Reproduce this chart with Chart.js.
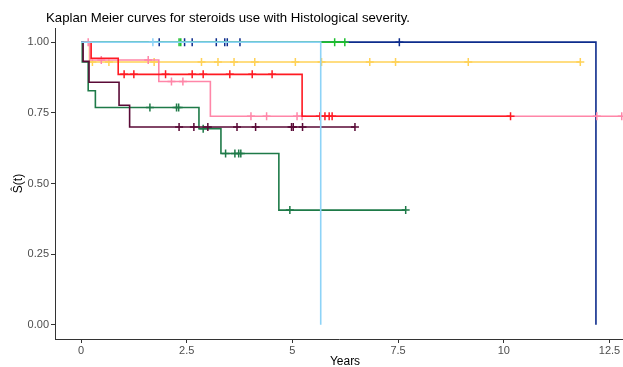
<!DOCTYPE html>
<html>
<head>
<meta charset="utf-8">
<script src="https://cdn.jsdelivr.net/npm/chart.js@4.4.1/dist/chart.umd.min.js"></script>
<style>
  html, body { margin: 0; padding: 0; background: #fff; }
  #km { display: block; }
</style>
</head>
<body>
<canvas id="km" width="623" height="367"></canvas>
<script>
// Kaplan Meier step curves: event times and survival just after each time
var navyTimes = [0, 12.18];
var navySurv = [1, 0];
var navyCens = [1.85, 2.45, 2.63, 3.2, 3.4, 3.46, 3.76, 7.53];

var greenTimes = [0, 6.24];
var greenSurv = [1, 1];
var greenCens = [2.32, 2.36, 6.0, 6.24];

var skyTimes = [0, 5.67];
var skySurv = [1, 0];
var skyCens = [1.70];

var yellowTimes = [0, 0.2, 11.81];
var yellowSurv = [1, 0.93, 0.93];
var yellowCens = [0.27, 0.66, 1.73, 2.85, 3.24, 3.62, 4.11, 5.07, 5.69, 6.83, 7.44, 9.16, 11.81];

var pinkTimes = [0, 0.21, 1.84, 3.06, 12.79];
var pinkSurv = [1, 0.937, 0.861, 0.738, 0.738];
var pinkCens = [0.17, 0.48, 1.59, 2.14, 2.41, 4.02, 4.39, 5.11, 5.23, 12.2, 12.79];

var redTimes = [0, 0.24, 0.88, 5.23, 10.16];
var redSurv = [1, 0.943, 0.886, 0.738, 0.738];
var redCens = [1.02, 1.25, 2.0, 2.63, 2.89, 3.52, 4.05, 4.52, 5.65, 5.77, 5.87, 5.94, 10.16];

var maroonTimes = [0, 0.05, 0.19, 0.9, 1.15, 6.48];
var maroonSurv = [1, 0.932, 0.858, 0.777, 0.700, 0.700];
var maroonCens = [2.32, 2.67, 3.0, 3.69, 4.13, 4.98, 5.02, 5.24, 6.48];

var dkgreenTimes = [0, 0.03, 0.17, 0.34, 2.79, 3.31, 4.68, 7.68];
var dkgreenSurv = [1, 0.93, 0.828, 0.769, 0.694, 0.606, 0.406, 0.406];
var dkgreenCens = [1.63, 2.26, 2.31, 2.89, 3.42, 3.64, 3.73, 3.78, 4.94, 7.68];

var xTickVals = [0, 2.5, 5, 7.5, 10, 12.5];
var xTickLabels = ['0', '2.5', '5', '7.5', '10', '12.5'];
var yTickVals = [0, 0.25, 0.5, 0.75, 1];
var yTickLabels = ['0.00', '0.25', '0.50', '0.75', '1.00'];

var chartTitle = 'Kaplan Meier curves for steroids use with Histological severity.';

// drawing order: first in list is at the bottom
var curves = [
  { times: navyTimes, surv: navySurv, cens: navyCens, color: '#0D2C8C' },
  { times: greenTimes, surv: greenSurv, cens: greenCens, color: '#1DBF2E' },
  { times: yellowTimes, surv: yellowSurv, cens: yellowCens, color: '#FFD257' },
  { times: pinkTimes, surv: pinkSurv, cens: pinkCens, color: '#FF86A8' },
  { times: redTimes, surv: redSurv, cens: redCens, color: '#FF1A22' },
  { times: dkgreenTimes, surv: dkgreenSurv, cens: dkgreenCens, color: '#1E7A48' },
  { times: maroonTimes, surv: maroonSurv, cens: maroonCens, color: '#5A0A36' },
  { times: skyTimes, surv: skySurv, cens: skyCens, color: '#8DD3F7' }
];

// survival value at time t (value of the step holding at t)
function survAt(times, surv, t) {
  var s = surv[0];
  for (var i = 0; i < times.length; i++) {
    if (times[i] <= t) s = surv[i];
  }
  return s;
}

var datasets = [];
var n = curves.length;
curves.forEach(function (c, k) {
  datasets.push({
    data: c.times.map(function (t, i) { return { x: t, y: c.surv[i] }; }),
    showLine: true,
    stepped: 'before',
    borderColor: c.color,
    borderWidth: 1.6,
    pointRadius: 0,
    fill: false,
    order: 2 * (n - k)
  });
  datasets.push({
    data: c.cens.map(function (t) { return { x: t, y: survAt(c.times, c.surv, t) }; }),
    showLine: false,
    pointStyle: 'cross',
    pointRadius: 4,
    pointBorderWidth: 1.5,
    pointBorderColor: c.color,
    pointBackgroundColor: c.color,
    order: 2 * (n - k) - 1
  });
});

var textPlugin = {
  id: 'texts',
  afterDraw: function (chart) {
    var ctx = chart.ctx;
    ctx.save();
    ctx.fillStyle = '#000';
    ctx.textBaseline = 'alphabetic';
    ctx.font = '13.2px "Liberation Sans", Arial, sans-serif';
    ctx.textAlign = 'left';
    ctx.fillText(chartTitle, 46, 22);
    ctx.font = '12px "Liberation Sans", Arial, sans-serif';
    ctx.textAlign = 'center';
    ctx.fillText('Years', 345, 365);
    ctx.restore();
  }
};

var tickFont = { family: '"Liberation Sans", Arial, sans-serif', size: 11 };

new Chart(document.getElementById('km'), {
  type: 'scatter',
  data: { datasets: datasets },
  options: {
    responsive: false,
    animation: false,
    devicePixelRatio: 1,
    layout: { autoPadding: false, padding: { top: 28, right: 0, left: 0, bottom: 0 } },
    plugins: {
      legend: { display: false },
      tooltip: { enabled: false },
      title: { display: false }
    },
    scales: {
      x: {
        type: 'linear',
        min: -0.615,
        max: 12.82,
        afterBuildTicks: function (s) {
          s.ticks = xTickVals.map(function (v) { return { value: v }; });
        },
        afterFit: function (s) {
          s.height = 28;
          s.paddingLeft = 0;
          s.paddingRight = 0;
        },
        ticks: {
          font: tickFont,
          color: '#4D4D4D',
          padding: 1,
          maxRotation: 0,
          autoSkip: false,
          callback: function (v) { return xTickLabels[xTickVals.indexOf(v)]; }
        },
        grid: { drawOnChartArea: false, drawTicks: true, tickLength: 4, color: '#333' },
        border: { display: true, color: '#333', width: 1 }
      },
      y: {
        type: 'linear',
        min: -0.05,
        max: 1.05,
        afterBuildTicks: function (s) {
          s.ticks = yTickVals.map(function (v) { return { value: v }; });
        },
        afterFit: function (s) {
          s.width = 55;
          s.paddingTop = 0;
          s.paddingBottom = 0;
        },
        ticks: {
          font: tickFont,
          color: '#4D4D4D',
          padding: 2,
          autoSkip: false,
          callback: function (v) { return yTickLabels[yTickVals.indexOf(v)]; }
        },
        grid: { drawOnChartArea: false, drawTicks: true, tickLength: 4, color: '#333' },
        border: { display: true, color: '#333', width: 1 },
        title: {
          display: true,
          text: 'Ŝ(t)',
          color: '#000',
          font: { family: '"Liberation Sans", Arial, sans-serif', size: 12 },
          padding: { top: 11, bottom: 0 }
        }
      }
    }
  },
  plugins: [textPlugin]
});
</script>
</body>
</html>
